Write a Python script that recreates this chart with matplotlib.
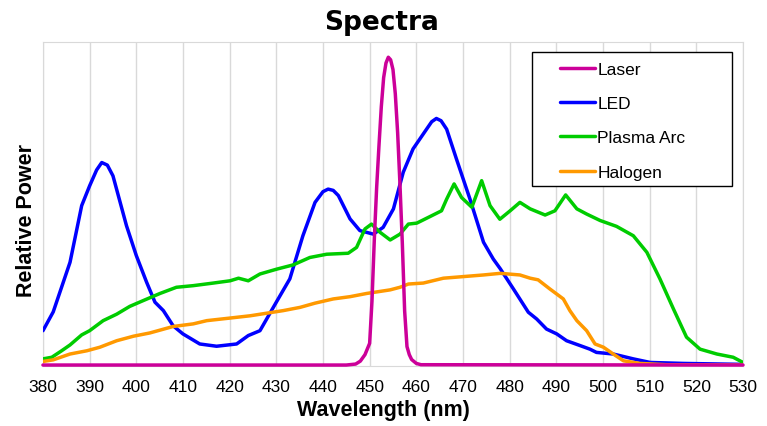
import matplotlib.pyplot as plt
from matplotlib.patches import Rectangle

# wavelengths (nm) and relative power
laser_nm = [380, 445, 447, 448, 449, 450, 450.5, 451, 451.5, 452, 452.5, 453, 453.5, 454,
            454.5, 455, 455.5, 456, 456.5, 457, 457.5, 458, 458.5, 459, 460, 461, 530]
laser_pw = [0.003, 0.003, 0.006, 0.015, 0.035, 0.07, 0.2, 0.39, 0.55, 0.68, 0.8, 0.89, 0.935, 0.953,
            0.945, 0.915, 0.84, 0.72, 0.56, 0.38, 0.17, 0.06, 0.035, 0.02, 0.008, 0.004, 0.003]

led_nm = [380, 382.2, 385.8, 388.3, 390, 391.5, 392.6, 393.8, 395, 397.9, 400, 402.2, 404, 405.8,
          407.9, 410, 413.6, 417.2, 421.5, 424, 426.5, 430, 432.9, 435.7, 438.3, 440, 441.1,
          442.2, 443.3, 445.8, 447.9, 450.8, 452.9, 455.1, 457.2, 459.3, 462.2, 463.3, 464.3,
          465.3, 466.5, 468.6, 471.5, 474.4, 476.5, 478, 480.8, 484, 485.8, 487.9, 490.1, 492.2,
          495.1, 497.2, 498.6, 502.2, 506.5, 510.1, 517.2, 530]
led_pw = [0.109, 0.167, 0.32, 0.495, 0.556, 0.605, 0.628, 0.62, 0.587, 0.433, 0.341, 0.259, 0.197, 0.171,
          0.124, 0.099, 0.068, 0.061, 0.068, 0.094, 0.109, 0.197, 0.269, 0.402, 0.505, 0.538, 0.546,
          0.542, 0.526, 0.454, 0.418, 0.407, 0.428, 0.485, 0.598, 0.67, 0.731, 0.754, 0.764,
          0.757, 0.731, 0.639, 0.515, 0.382, 0.33, 0.3, 0.238, 0.166, 0.145, 0.114, 0.099, 0.078,
          0.063, 0.052, 0.042, 0.037, 0.022, 0.011, 0.008, 0.005]

plasma_nm = [380, 381.9, 384, 385.8, 388.3, 390, 392.9, 395.8, 398.6, 401.5, 405.1, 408.6, 412.2,
             416.5, 420.1, 421.9, 424, 426.5, 430.1, 433.6, 437.2, 440.8, 445.4, 447.2, 449,
             450.4, 452.2, 454.4, 456.5, 458.3, 460.1, 462.9, 465.4, 466.5, 468.1, 469.7, 471.9,
             474, 475.8, 477.9, 480.1, 482.2, 484.4, 487.6, 489.7, 492, 494.4, 496.5, 499.4,
             502.9, 506.5, 509.4, 512.2, 515.1, 517.9, 520.8, 524.4, 527.9, 530]
plasma_pw = [0.022, 0.027, 0.047, 0.065, 0.096, 0.109, 0.14, 0.16, 0.184, 0.202, 0.224, 0.243, 0.248,
             0.256, 0.263, 0.271, 0.263, 0.284, 0.299, 0.312, 0.335, 0.345, 0.348, 0.366, 0.423,
             0.438, 0.413, 0.389, 0.407, 0.438, 0.441, 0.461, 0.479, 0.515, 0.562, 0.52, 0.49,
             0.572, 0.495, 0.453, 0.479, 0.505, 0.485, 0.466, 0.479, 0.528, 0.485, 0.469, 0.449,
             0.431, 0.402, 0.351, 0.269, 0.176, 0.089, 0.052, 0.037, 0.027, 0.011]

halogen_nm = [380, 382.2, 385.8, 389.4, 392.2, 395.8, 399.4, 402.9, 407.9, 412.2, 415.1, 420.1,
              424.4, 431.5, 435.1, 438.3, 442.2, 445.8, 449.4, 454.4, 456.5, 458.3, 461.5, 465.8,
              470.1, 474.4, 478, 482.2, 484.4, 486.1, 488.6, 491.5, 492.9, 494.4, 496.5, 498.3,
              500.1, 502.2, 504.4, 507.9, 513.6, 530]
halogen_pw = [0.014, 0.019, 0.037, 0.047, 0.058, 0.078, 0.092, 0.102, 0.122, 0.13, 0.14, 0.148,
              0.155, 0.171, 0.181, 0.194, 0.207, 0.214, 0.224, 0.235, 0.243, 0.253, 0.256, 0.271,
              0.276, 0.281, 0.286, 0.281, 0.271, 0.266, 0.238, 0.207, 0.171, 0.14, 0.109, 0.068,
              0.058, 0.037, 0.016, 0.008, 0.004, 0.003]

plt.rcParams['font.family'] = ['Liberation Sans', 'DejaVu Sans']

fig = plt.figure(figsize=(7.67, 4.27), dpi=100)
ax = fig.add_axes([0.056, 0.1405, 0.9127, 0.7588])

kw = dict(lw=2.5, solid_joinstyle='round', solid_capstyle='round')
ax.plot(led_nm, led_pw, color='#0000FF', label='LED', zorder=3, **kw)
ax.plot(plasma_nm, plasma_pw, color='#00CC00', label='Plasma Arc', zorder=3, **kw)
ax.plot(halogen_nm, halogen_pw, color='#FF9900', label='Halogen', zorder=4, **kw)
ax.plot(laser_nm, laser_pw, color='#CC0099', label='Laser', clip_on=False, zorder=5, **kw)

ax.set_xlim(380, 530)
ax.set_ylim(0, 1)
ax.set_xticks(range(380, 531, 10))
ax.set_yticks([])
ax.tick_params(axis='x', length=0, pad=9, labelsize=12.5)
ax.grid(axis='x', color='#D9D9D9', lw=1)
ax.set_axisbelow(True)
for s in ax.spines.values():
    s.set_color('#D9D9D9')

fig.text(0.4974, 0.947, 'Spectra', fontsize=19, fontweight='bold', family='DejaVu Sans',
         ha='center', va='center')
ax.set_xlabel('Wavelength (nm)', fontsize=15.5, fontweight='bold')
ax.xaxis.set_label_coords(0.487, -0.101)
ax.set_ylabel('Relative Power', fontsize=15.5, fontweight='bold')
ax.yaxis.set_label_coords(-0.009, 0.452)

# legend box drawn separately so its padding matches the reference
fig.patches.append(Rectangle((0.6936, 0.5621), 0.2608, 0.3138, transform=fig.transFigure,
                             facecolor='white', edgecolor='black', lw=1, zorder=10))
h, l = ax.get_legend_handles_labels()
order = [3, 0, 1, 2]
leg = fig.legend([h[i] for i in order], [l[i] for i in order], loc='upper left',
                 bbox_to_anchor=(0.7301, 0.853), frameon=False, borderpad=0, borderaxespad=0,
                 handlelength=2.0, handletextpad=0.15, labelspacing=1.1, fontsize=12.5)
leg.set_zorder(11)

fig.savefig('out.png', dpi=100)
